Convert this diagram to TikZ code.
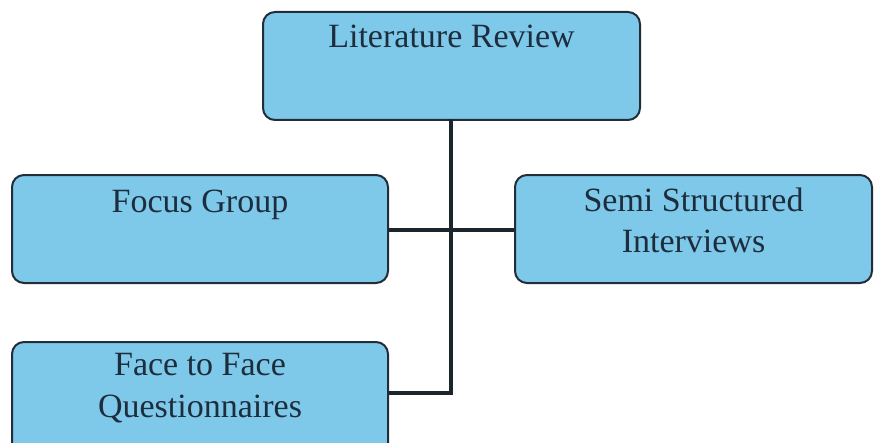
\documentclass[tikz,border=0pt]{standalone}
\usepackage{fontspec}
\setmainfont{Liberation Serif}
\usetikzlibrary{positioning}

\definecolor{boxblue}{RGB}{126,200,234}
\definecolor{boxline}{RGB}{35,45,55}
\definecolor{txtdark}{RGB}{30,45,60}

\tikzset{every picture/.style={line width=0.75pt}}
\tikzset{
  stagebox/.style={draw=boxline, fill=boxblue, line width=1.5pt, rounded corners=9pt, inner sep=0pt},
  stagetext/.style={text=txtdark, font=\fontsize{25.5pt}{31pt}\selectfont, align=center, inner sep=0pt},
  joinline/.style={draw=boxline!80!black, line width=3pt}
}

\begin{document}
\begin{tikzpicture}[x=0.75pt,y=0.75pt,yscale=-1,xscale=1]
\useasboundingbox (0,0) rectangle (880,442);

%Shape: Boxes
\node [stagebox, minimum width=377*0.75pt, minimum height=108*0.75pt] (lit) at (451.5,66) {};
\node [stagebox, minimum width=376*0.75pt, minimum height=108*0.75pt] (focus) at (200,229) {};
\node [stagebox, minimum width=357*0.75pt, minimum height=108*0.75pt] (semi) at (693.5,229) {};
\node [stagebox, minimum width=376*0.75pt, minimum height=120*0.75pt] (face) at (200,402) {};

% Text Node
\node [stagetext, below=13 of lit.north] (littxt) {Literature Review};
% Text Node
\node [stagetext, below=15 of focus.north] (focustxt) {Focus Group};
% Text Node
\node [stagetext, below=13 of semi.north] (semitxt) {Semi Structured\\Interviews};
% Text Node
\node [stagetext, below=12 of face.north] (facetxt) {Face to Face\\Questionnaires};

%Connectors
\coordinate (hub) at (451,230);
\coordinate (foot) at (451,393);
\draw [joinline] (lit.south) -- (foot |- lit.south) -- (foot) -- (face.east |- foot);
\draw [joinline] (focus.east |- hub) -- (semi.west |- hub);

\end{tikzpicture}
\end{document}
